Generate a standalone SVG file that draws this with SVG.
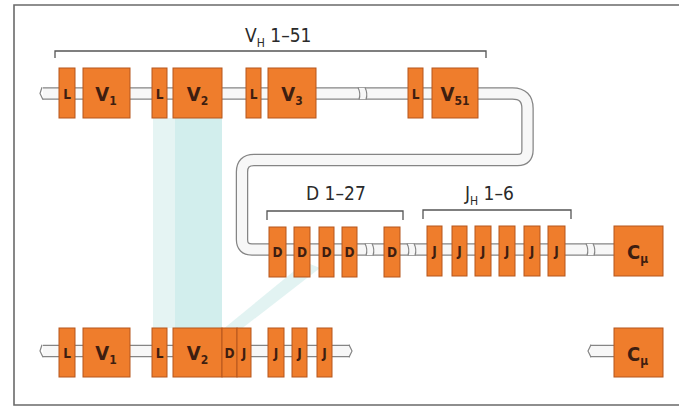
<svg xmlns="http://www.w3.org/2000/svg" width="679" height="408" viewBox="0 0 679 408">
<style>
.seg{fill:#ef7d2c;stroke:#b5561c;stroke-width:1}
.lbl{font-family:"DejaVu Sans Condensed","Liberation Sans",sans-serif;font-weight:bold;fill:#3e1e10;text-anchor:middle}
.sm{font-size:13.5px}
.big{font-size:20px}
.sub{font-size:12px}
.title{font-family:"DejaVu Sans Condensed","Liberation Sans",sans-serif;font-size:19px;fill:#2a2a2a}
.tubeO{fill:none;stroke:#858585;stroke-width:12.5}
.tubeI{fill:none;stroke:#f7f7f7;stroke-width:10}
.brk{fill:none;stroke:#858585;stroke-width:1.2}
.brkbg{fill:#f7f7f7}
.brack{fill:none;stroke:#555;stroke-width:1.3}
.frame{fill:none;stroke:#6a6a6a;stroke-width:1.6}
</style>
<rect width="679" height="408" fill="#ffffff"/>
<path class="frame" d="M679,5 H14 V405 H679"/>
<g id="tint">
<rect x="153" y="118" width="22" height="210" fill="#e2f3f2" opacity="0.9"/>
<rect x="175" y="118" width="47" height="210" fill="#cdeceb" opacity="0.9"/>
<polygon points="222,330 240,330 320,268 305,262" fill="#dff2f1" opacity="0.9"/>
</g>
<g id="strands">
<path class="tubeO" d="M42,93.5 H512.5 Q527.5,93.5 527.5,108.5 V150 Q527.5,160 517.5,160 H254 Q242,160 242,172 V239.5 Q242,249.5 252,249.5 H614"/>
<path class="tubeI" d="M42,93.5 H512.5 Q527.5,93.5 527.5,108.5 V150 Q527.5,160 517.5,160 H254 Q242,160 242,172 V239.5 Q242,249.5 252,249.5 H614"/>
<path class="tubeO" d="M42,351 H350"/>
<path class="tubeI" d="M42,351 H350"/>
<path class="tubeO" d="M590,351 H614"/>
<path class="tubeI" d="M590,351 H614"/>
<rect x="35" y="86" width="8" height="15" fill="#fff"/>
<path class="brk" d="M42,87.3 L40,93.5 L43,99.7"/>
<rect x="35" y="344" width="8" height="15" fill="#fff"/>
<path class="brk" d="M42,344.8 L40,351 L43,357.2"/>
<rect x="350" y="344" width="8" height="15" fill="#fff"/>
<path class="brk" d="M349,344.8 L352,351 L349,357.2"/>
<rect x="582" y="344" width="8" height="15" fill="#fff"/>
<path class="brk" d="M591,344.8 L588,351 L591,357.2"/>
<g id="breaks">
<rect class="brkbg" x="359" y="88" width="7" height="11"/>
<path class="brk" d="M358,87.5 Q361,93.5 359,99.5 M365,87.5 Q368,93.5 366,99.5"/>
<rect class="brkbg" x="366" y="244" width="7" height="11"/>
<path class="brk" d="M365,243.5 Q368,249.5 366,255.5 M372,243.5 Q375,249.5 373,255.5"/>
<rect class="brkbg" x="408" y="244" width="7" height="11"/>
<path class="brk" d="M407,243.5 Q410,249.5 408,255.5 M414,243.5 Q417,249.5 415,255.5"/>
<rect class="brkbg" x="587" y="244" width="7" height="11"/>
<path class="brk" d="M586,243.5 Q589,249.5 587,255.5 M593,243.5 Q596,249.5 594,255.5"/>
</g>
</g>
<g id="brackets">
<path class="brack" d="M55,58 V51 H486 V58"/>
<path class="brack" d="M267,220 V211 H403 V220"/>
<path class="brack" d="M423,219 V210 H571 V219"/>
<text class="title" x="245" y="42">V<tspan font-size="12" dy="5">H</tspan><tspan dy="-5"> 1–51</tspan></text>
<text class="title" x="306" y="200">D 1–27</text>
<text class="title" x="465" y="200">J<tspan font-size="12" dy="5">H</tspan><tspan dy="-5"> 1–6</tspan></text>
</g>
<g id="r1-L1"><rect class="seg" x="59" y="68" width="16" height="50"/><text class="lbl sm" x="67" y="99">L</text></g>
<g id="r1-V1"><rect class="seg" x="83" y="68" width="47" height="50"/><text class="lbl big" x="106" y="101">V<tspan class="sub" dy="4">1</tspan></text></g>
<g id="r1-L2"><rect class="seg" x="152" y="68" width="15" height="50"/><text class="lbl sm" x="159.5" y="99">L</text></g>
<g id="r1-V2"><rect class="seg" x="173" y="68" width="49" height="50"/><text class="lbl big" x="197.5" y="101">V<tspan class="sub" dy="4">2</tspan></text></g>
<g id="r1-L3"><rect class="seg" x="246" y="68" width="15" height="50"/><text class="lbl sm" x="253.5" y="99">L</text></g>
<g id="r1-V3"><rect class="seg" x="268" y="68" width="48" height="50"/><text class="lbl big" x="292" y="101">V<tspan class="sub" dy="4">3</tspan></text></g>
<g id="r1-L51"><rect class="seg" x="408" y="68" width="15" height="50"/><text class="lbl sm" x="415.5" y="99">L</text></g>
<g id="r1-V51"><rect class="seg" x="432" y="68" width="46" height="50"/><text class="lbl big" x="455" y="101">V<tspan class="sub" dy="4">51</tspan></text></g>
<g id="r2-D1"><rect class="seg" x="269" y="227" width="17" height="50"/><text class="lbl sm" x="277.5" y="257">D</text></g>
<g id="r2-D2"><rect class="seg" x="294" y="227" width="16" height="50"/><text class="lbl sm" x="302" y="257">D</text></g>
<g id="r2-D3"><rect class="seg" x="319" y="227" width="15" height="50"/><text class="lbl sm" x="326.5" y="257">D</text></g>
<g id="r2-D4"><rect class="seg" x="342" y="227" width="15" height="50"/><text class="lbl sm" x="349.5" y="257">D</text></g>
<g id="r2-D5"><rect class="seg" x="384" y="227" width="16" height="50"/><text class="lbl sm" x="392" y="257">D</text></g>
<g id="r2-J1"><rect class="seg" x="427" y="226" width="15" height="50"/><text class="lbl sm" x="434.5" y="256">J</text></g>
<g id="r2-J2"><rect class="seg" x="452" y="226" width="15" height="50"/><text class="lbl sm" x="459.5" y="256">J</text></g>
<g id="r2-J3"><rect class="seg" x="475" y="226" width="16" height="50"/><text class="lbl sm" x="483" y="256">J</text></g>
<g id="r2-J4"><rect class="seg" x="499" y="226" width="16" height="50"/><text class="lbl sm" x="507" y="256">J</text></g>
<g id="r2-J5"><rect class="seg" x="524" y="226" width="16" height="50"/><text class="lbl sm" x="532" y="256">J</text></g>
<g id="r2-J6"><rect class="seg" x="548" y="226" width="17" height="50"/><text class="lbl sm" x="556.5" y="256">J</text></g>
<g id="r2-C"><rect class="seg" x="614" y="226" width="49" height="50"/><text class="lbl big" x="637.5" y="259">C<tspan class="sub" dy="4">μ</tspan></text></g>
<g id="r3-L1"><rect class="seg" x="59" y="328" width="16" height="49"/><text class="lbl sm" x="67" y="358">L</text></g>
<g id="r3-V1"><rect class="seg" x="83" y="328" width="47" height="49"/><text class="lbl big" x="106" y="360">V<tspan class="sub" dy="4">1</tspan></text></g>
<g id="r3-L2"><rect class="seg" x="152" y="328" width="15" height="49"/><text class="lbl sm" x="159.5" y="358">L</text></g>
<g id="r3-V2"><rect class="seg" x="173" y="328" width="49" height="49"/><text class="lbl big" x="197.5" y="360">V<tspan class="sub" dy="4">2</tspan></text></g>
<g id="r3-D"><rect class="seg" x="222" y="328" width="15" height="49"/><text class="lbl sm" x="229.5" y="358">D</text></g>
<g id="r3-J1"><rect class="seg" x="237" y="328" width="14" height="49"/><text class="lbl sm" x="244" y="358">J</text></g>
<g id="r3-J2"><rect class="seg" x="268" y="328" width="16" height="49"/><text class="lbl sm" x="276" y="358">J</text></g>
<g id="r3-J3"><rect class="seg" x="292" y="328" width="15" height="49"/><text class="lbl sm" x="299.5" y="358">J</text></g>
<g id="r3-J4"><rect class="seg" x="317" y="328" width="15" height="49"/><text class="lbl sm" x="324.5" y="358">J</text></g>
<g id="r3-C"><rect class="seg" x="614" y="328" width="49" height="49"/><text class="lbl big" x="637.5" y="361">C<tspan class="sub" dy="4">μ</tspan></text></g>
</svg>
